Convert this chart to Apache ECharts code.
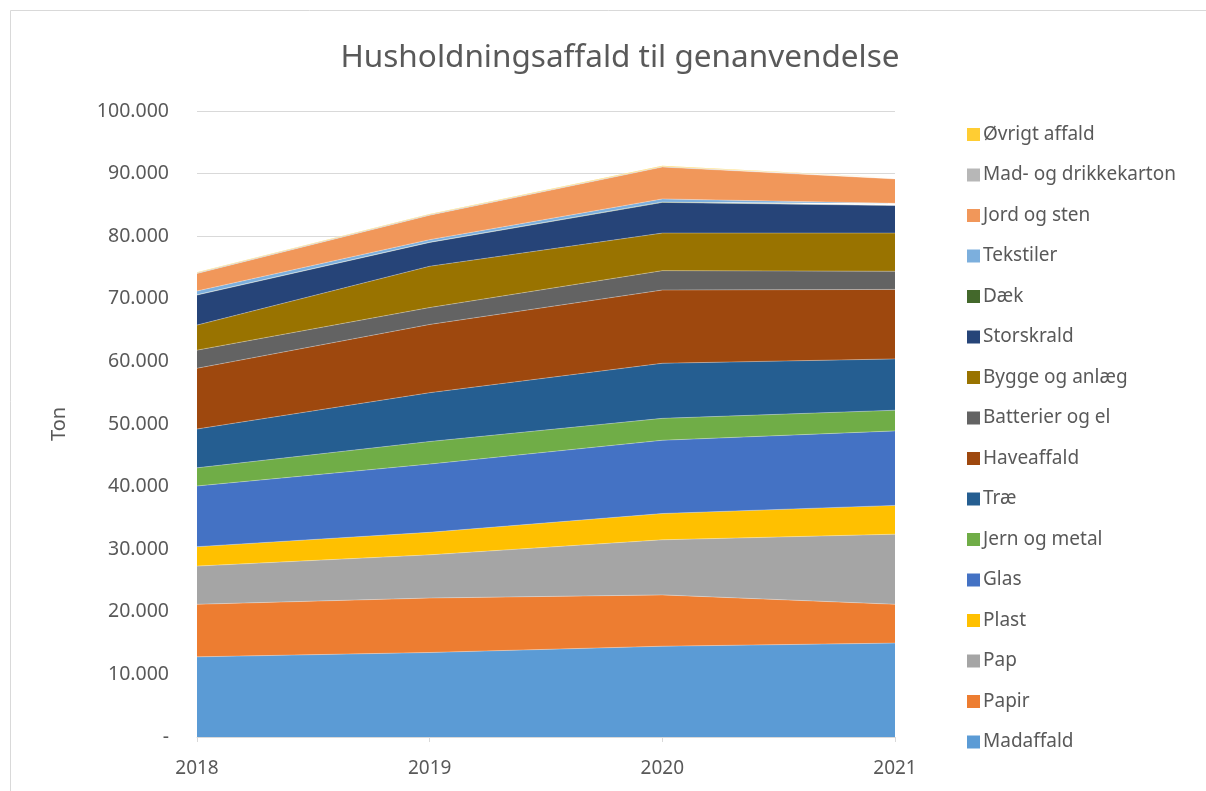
<!DOCTYPE html>
<html>
<head>
<meta charset="utf-8">
<script src="https://cdn.jsdelivr.net/npm/echarts@6/dist/echarts.min.js"></script>
<style>
  html, body { margin: 0; padding: 0; background: #fff; }
  #chart { width: 1206px; height: 791px; }
</style>
</head>
<body>
<div id="chart"></div>
<script>
// år på x-aksen
var years = ['2018', '2019', '2020', '2021'];

// fraktioner i ton, nederst først
var madaffald   = [12800, 13500, 14500, 15000];
var papir       = [8400, 8700, 8200, 6200];
var pap         = [6100, 6900, 8800, 11200];
var plast       = [3100, 3600, 4200, 4600];
var glas        = [9700, 10900, 11700, 11900];
var jernMetal   = [2900, 3600, 3500, 3300];
var trae        = [6200, 7800, 8800, 8200];
var haveaffald  = [9700, 10900, 11700, 11100];
var batterier   = [2900, 2700, 3100, 2900];
var bygge       = [4000, 6600, 6000, 6100];
var storskrald  = [4800, 3800, 4900, 4400];
var daek        = [50, 50, 50, 50];
var tekstiler   = [600, 400, 500, 300];
var jordSten    = [2800, 3900, 5100, 3900];
var karton      = [100, 100, 100, 100];
var oevrigt     = [100, 100, 100, 100];

var seriesNames = ['Madaffald', 'Papir', 'Pap', 'Plast', 'Glas', 'Jern og metal', 'Træ',
  'Haveaffald', 'Batterier og el', 'Bygge og anlæg', 'Storskrald', 'Dæk', 'Tekstiler',
  'Jord og sten', 'Mad- og drikkekarton', 'Øvrigt affald'];
var seriesData = [madaffald, papir, pap, plast, glas, jernMetal, trae, haveaffald,
  batterier, bygge, storskrald, daek, tekstiler, jordSten, karton, oevrigt];
var colors = ['#5B9BD5', '#ED7D31', '#A5A5A5', '#FFC000', '#4472C4', '#70AD47', '#255E91',
  '#9E480E', '#636363', '#997300', '#264478', '#43682B', '#7CAFDD', '#F1975A', '#B7B7B7', '#FFCD33'];

var font = 'Noto Sans';
var txt = '#595959';

function fmt(v) {
  if (v === 0) return '-';
  return String(v).replace(/\B(?=(\d{3})+(?!\d))/g, '.');
}

var chart = echarts.init(document.getElementById('chart'));

var series = [];
for (var i = 0; i < seriesNames.length; i++) {
  series.push({
    name: seriesNames[i],
    type: 'line',
    stack: 'total',
    data: seriesData[i],
    showSymbol: false,
    symbol: 'none',
    lineStyle: { width: 0.6, color: 'rgba(255,255,255,0.5)' },
    areaStyle: { color: colors[i], opacity: 1 },
    itemStyle: { color: colors[i] },
    z: 2
  });
}

var option = {
  animation: false,
  backgroundColor: '#fff',
  color: colors,
  title: {
    text: 'Husholdningsaffald til genanvendelse',
    left: 615,
    textAlign: 'center',
    top: 37,
    textStyle: { fontFamily: font, fontSize: 31.5, fontWeight: 'normal', color: txt }
  },
  legend: {
    orient: 'vertical',
    left: 962,
    top: 120,
    itemWidth: 13,
    itemHeight: 13,
    itemGap: 21.5,
    icon: 'rect',
    data: seriesNames.slice().reverse(),
    textStyle: { fontFamily: font, fontSize: 19, color: txt, padding: [0, 0, 0, -2] }
  },
  grid: { left: 197, right: 311, top: 111, bottom: 54 },
  xAxis: {
    type: 'category',
    data: years,
    boundaryGap: false,
    axisLine: { lineStyle: { color: '#d9d9d9' } },
    axisTick: { show: true, alignWithLabel: true, lineStyle: { color: '#d9d9d9' } },
    axisLabel: { fontFamily: font, fontSize: 19, color: txt, margin: 22 }
  },
  yAxis: {
    type: 'value',
    min: 0,
    max: 100000,
    interval: 10000,
    name: 'Ton',
    nameLocation: 'middle',
    nameGap: 128,
    nameTextStyle: { fontFamily: font, fontSize: 20, color: txt },
    axisLine: { show: false },
    axisTick: { show: false },
    splitLine: { lineStyle: { color: '#d9d9d9', width: 1 } },
    axisLabel: { fontFamily: font, fontSize: 19.5, color: txt, margin: 28, formatter: fmt }
  },
  graphic: [{
    type: 'rect',
    shape: { x: 10.5, y: 10.5, width: 1220, height: 820 },
    style: { fill: 'none', stroke: '#d9d9d9', lineWidth: 1 },
    silent: true
  }],
  series: series
};

chart.setOption(option);
</script>
</body>
</html>
